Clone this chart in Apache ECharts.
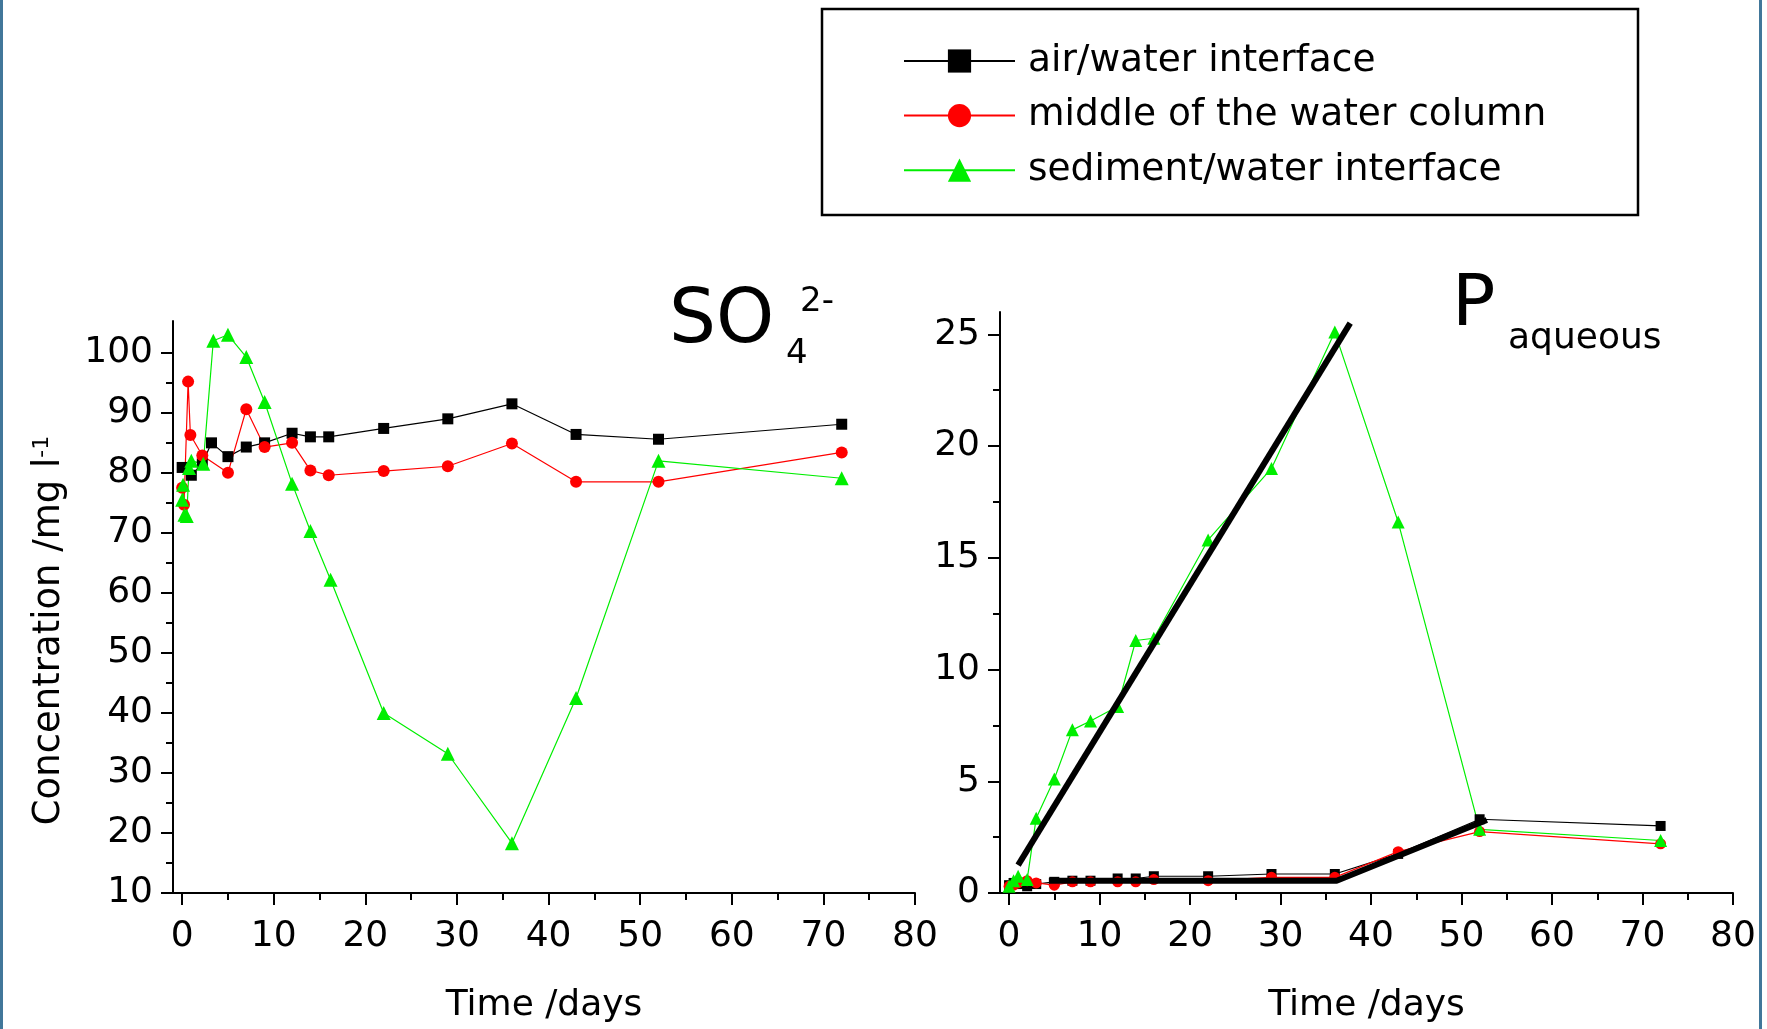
<!DOCTYPE html>
<html>
<head>
<meta charset="utf-8">
<title>SO4 and P concentrations</title>
<script src="https://cdn.jsdelivr.net/npm/echarts@6/dist/echarts.min.js"></script>
<style>
  html, body { margin: 0; padding: 0; background: #fff; }
  #main { width: 1767px; height: 1029px; }
</style>
</head>
<body>
<div id="main"></div>
<script>
// series names (legend)
const seriesNames = ["air/water interface", "middle of the water column", "sediment/water interface"];

// SO4 2- panel, [day, mg/l]
const so4Air = [[0, 80.9], [1, 79.6], [2.2, 81.5], [3.2, 85], [5, 82.7], [7, 84.3], [9, 85], [12, 86.6],
  [14, 86], [16, 86], [22, 87.4], [29, 89], [36, 91.5], [43, 86.4], [52, 85.6], [72, 88.1]];
const so4Mid = [[0, 77.5], [0.2, 74.7], [0.65, 95.2], [0.9, 86.3], [2.2, 82.9], [5, 80], [7, 90.6], [9, 84.3],
  [12, 85], [14, 80.4], [16, 79.6], [22, 80.3], [29, 81.1], [36, 84.9], [43, 78.5], [52, 78.5], [72, 83.4]];
const so4Sed = [[0, 75.5], [0.1, 78], [0.25, 73], [0.5, 72.8], [0.75, 80.8], [1, 82], [2.3, 81.5], [3.4, 102],
  [5, 103], [7, 99.3], [9, 91.8], [12, 78.2], [14, 70.3], [16.2, 62.2], [22, 40], [29, 33.2], [36, 18.3],
  [43, 42.5], [52, 82], [72, 79.1]];

// P aqueous panel, [day, mg/l]
const pAir = [[0, 0.35], [0.5, 0.45], [1, 0.4], [2, 0.3], [3, 0.4], [5, 0.5], [7, 0.55], [9, 0.55], [12, 0.65],
  [14, 0.65], [16, 0.75], [22, 0.75], [29, 0.85], [36, 0.85], [43, 1.75], [52, 3.3], [72, 3.0]];
const pMid = [[0, 0.3], [0.5, 0.35], [1, 0.45], [2, 0.55], [3, 0.45], [5, 0.35], [7, 0.5], [9, 0.5], [12, 0.5],
  [14, 0.5], [16, 0.6], [22, 0.55], [29, 0.7], [36, 0.7], [43, 1.85], [52, 2.75], [72, 2.2]];
const pSed = [[0, 0.3], [0.5, 0.55], [1, 0.75], [2, 0.6], [3, 3.35], [5, 5.1], [7, 7.3], [9, 7.7], [12, 8.35],
  [14, 11.3], [16, 11.4], [22, 15.8], [29, 19], [36, 25.1], [43, 16.6], [52, 2.85], [72, 2.35]];

// thick trend lines drawn over the P panel
const pTrendSed = [[1, 1.25], [37.7, 25.5]];
const pTrendLow = [[4.4, 0.55], [36.2, 0.55], [52.8, 3.27]];

// ticks
const dayTicks = [0, 10, 20, 30, 40, 50, 60, 70, 80];
const dayMinor = [5, 15, 25, 35, 45, 55, 65, 75];
const so4Ticks = [10, 20, 30, 40, 50, 60, 70, 80, 90, 100];
const so4Minor = [15, 25, 35, 45, 55, 65, 75, 85, 95];
const pTicks = [0, 5, 10, 15, 20, 25];
const pMinor = [2.5, 7.5, 12.5, 17.5, 22.5];

const FONT = "DejaVu Sans";

// main axis (line, long ticks, labels) + overlay axis for the short ticks
function makeAxes(gridIndex, pos, min, max, major, minor, extra) {
  const main = Object.assign({
    type: "value", gridIndex: gridIndex, position: pos, min: min, max: max,
    axisLine: { show: true, onZero: false, lineStyle: { color: "#000", width: 2 } },
    axisTick: { show: true, length: 12, customValues: major, lineStyle: { color: "#000", width: 2 } },
    axisLabel: { customValues: major, fontFamily: FONT, fontSize: 36, color: "#000",
      margin: pos === "bottom" ? 26 : 20 },
    splitLine: { show: false },
    nameTextStyle: { fontFamily: FONT, fontSize: 36, color: "#000" },
  }, extra || {});
  const small = {
    type: "value", gridIndex: gridIndex, position: pos, min: min, max: max,
    axisLine: { show: false, onZero: false },
    axisTick: { show: true, length: 7, customValues: minor, lineStyle: { color: "#000", width: 2 } },
    axisLabel: { show: false },
    splitLine: { show: false },
  };
  return [main, small];
}

function pointSeries(name, data, xi, yi, symbol, color, size) {
  return {
    name: name, type: "line", data: data, xAxisIndex: xi, yAxisIndex: yi,
    symbol: symbol, symbolSize: size, showSymbol: true,
    lineStyle: { color: color, width: 1.2 },
    itemStyle: { color: color },
    emphasis: { disabled: true }, animation: false,
  };
}

function trendSeries(data) {
  return {
    type: "line", data: data, xAxisIndex: 2, yAxisIndex: 2, symbol: "none", z: 5,
    lineStyle: { color: "#000", width: 6 }, emphasis: { disabled: true }, animation: false,
  };
}

const chart = echarts.init(document.getElementById("main"));

const xAxes = [].concat(
  makeAxes(0, "bottom", -1, 80, dayTicks, dayMinor, { name: "Time /days", nameLocation: "middle", nameGap: 95 }),
  makeAxes(1, "bottom", -1, 80, dayTicks, dayMinor, { name: "Time /days", nameLocation: "middle", nameGap: 95 })
);
const yAxes = [].concat(
  makeAxes(0, "left", 10, 105.3, so4Ticks, so4Minor, {
    name: "Concentration /mg l{sup|-1}", nameLocation: "middle", nameGap: 105, nameRotate: 90,
    nameTextStyle: {
      fontFamily: FONT, fontSize: 37, color: "#000", padding: [0, 47, 0, 0],
      rich: { sup: { fontFamily: FONT, fontSize: 22, color: "#000", verticalAlign: "top", lineHeight: 22 } },
    },
  }),
  makeAxes(1, "left", 0, 26, pTicks, pMinor)
);

const option = {
  backgroundColor: "#fff",
  animation: false,
  grid: [
    { left: 173, top: 321, width: 742, height: 572 },
    { left: 1000, top: 312, width: 733, height: 581 },
  ],
  xAxis: xAxes,
  yAxis: yAxes,
  legend: {
    data: seriesNames, orient: "vertical", left: 903, top: 41,
    itemWidth: 111, itemHeight: 29, itemGap: 14.6, padding: 0, selectedMode: false,
    textStyle: { fontFamily: FONT, fontSize: 37.5, color: "#000", lineHeight: 40, padding: [0, 0, 0, 8] },
  },
  graphic: [
    // legend frame
    { type: "rect", shape: { x: 822, y: 9, width: 816, height: 206 },
      style: { fill: "none", stroke: "#000", lineWidth: 2.5 }, z: 10 },
    // panel titles
    { type: "text", x: 669, y: 323, style: { text: "SO", font: '74px "DejaVu Sans"', fill: "#000", verticalAlign: "middle" } },
    { type: "text", x: 786, y: 354, style: { text: "4", font: '34px "DejaVu Sans"', fill: "#000", verticalAlign: "middle" } },
    { type: "text", x: 800, y: 302, style: { text: "2-", font: '34px "DejaVu Sans"', fill: "#000", verticalAlign: "middle" } },
    { type: "text", x: 1452, y: 306, style: { text: "P", font: '72px "DejaVu Sans"', fill: "#000", verticalAlign: "middle" } },
    { type: "text", x: 1508, y: 339, style: { text: "aqueous", font: '36px "DejaVu Sans"', fill: "#000", verticalAlign: "middle" } },
    // blue page edges
    { type: "rect", shape: { x: 0, y: 0, width: 3, height: 1029 }, style: { fill: "#41779a" } },
    { type: "rect", shape: { x: 1759, y: 0, width: 3, height: 1029 }, style: { fill: "#41779a" } },
  ],
  series: [
    pointSeries(seriesNames[0], so4Air, 0, 0, "rect", "#000", 11),
    pointSeries(seriesNames[1], so4Mid, 0, 0, "circle", "#ff0000", 12),
    pointSeries(seriesNames[2], so4Sed, 0, 0, "triangle", "#00ee00", 14),
    pointSeries(seriesNames[0], pAir, 2, 2, "rect", "#000", 10),
    pointSeries(seriesNames[1], pMid, 2, 2, "circle", "#ff0000", 11),
    pointSeries(seriesNames[2], pSed, 2, 2, "triangle", "#00ee00", 13),
    trendSeries(pTrendSed),
    trendSeries(pTrendLow),
  ],
};

chart.setOption(option);
window.addEventListener("resize", chart.resize);
</script>
</body>
</html>
